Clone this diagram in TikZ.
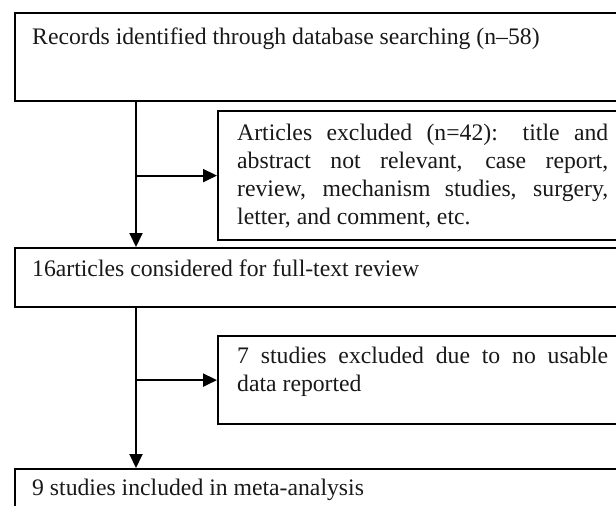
\documentclass[tikz,border=0pt]{standalone}
\usepackage{fontspec}
\setmainfont{Liberation Serif}
\usetikzlibrary{arrows.meta}
\tikzset{
  box/.style={draw=black, line width=1.8pt, rectangle, inner sep=0pt, anchor=north west},
  sidebox/.style={box, line width=2.2pt},
  txt/.style={inner sep=0pt, anchor=base west, text=black!90, font=\fontsize{23.7pt}{28.3pt}\selectfont},
  conn/.style={draw=black, line width=2pt, -{Triangle[length=14pt,width=13pt]}}
}
\newcommand{\jtext}[1]{\parbox[t]{371pt}{\fontsize{23.7pt}{28.3pt}\selectfont\tolerance=10000\hyphenpenalty=10000\exhyphenpenalty=10000 #1}}
\begin{document}
\begin{tikzpicture}[x=1pt,y=1pt]
\useasboundingbox (0,0) rectangle (616,-506);
\clip (0,0) rectangle (616,-506);
\fill[white] (0,0) rectangle (616,-506);
% boxes
\node[box, minimum width=630pt, minimum height=88pt] (b1) at (14,-12) {};
\node[sidebox, minimum width=420pt, minimum height=129pt] (b2) at (217,-110) {};
\node[box, minimum width=630pt, minimum height=59pt] (b3) at (14,-247) {};
\node[sidebox, minimum width=420pt, minimum height=88pt] (b4) at (217,-335) {};
\node[box, minimum width=630pt, minimum height=80pt] (b5) at (14,-468) {};
% texts
\node[txt] (t1) at (32,-44) {Records identified through database searching (n--58)};
\node[txt] (t2) at (237,-140) {\jtext{Articles excluded (n=42): title and\linebreak abstract not relevant, case report,\linebreak review, mechanism studies, surgery,\linebreak letter, and comment, etc.}};
\node[txt] (t3) at (32,-276) {16articles considered for full-text review};
\node[txt] (t4) at (237,-363) {\jtext{7 studies excluded due to no usable\linebreak data reported}};
\node[txt] (t5) at (32,-495) {9 studies included in meta-analysis};
% connectors
\coordinate (vx) at (136,0);
\draw[conn] (b1.south -| vx) -- (b3.north -| vx);
\draw[conn] (b2.west -| vx) -- (b2.west);
\draw[conn] (b3.south -| vx) -- (b5.north -| vx);
\draw[conn] (b4.west -| vx) -- (b4.west);
\end{tikzpicture}
\end{document}
